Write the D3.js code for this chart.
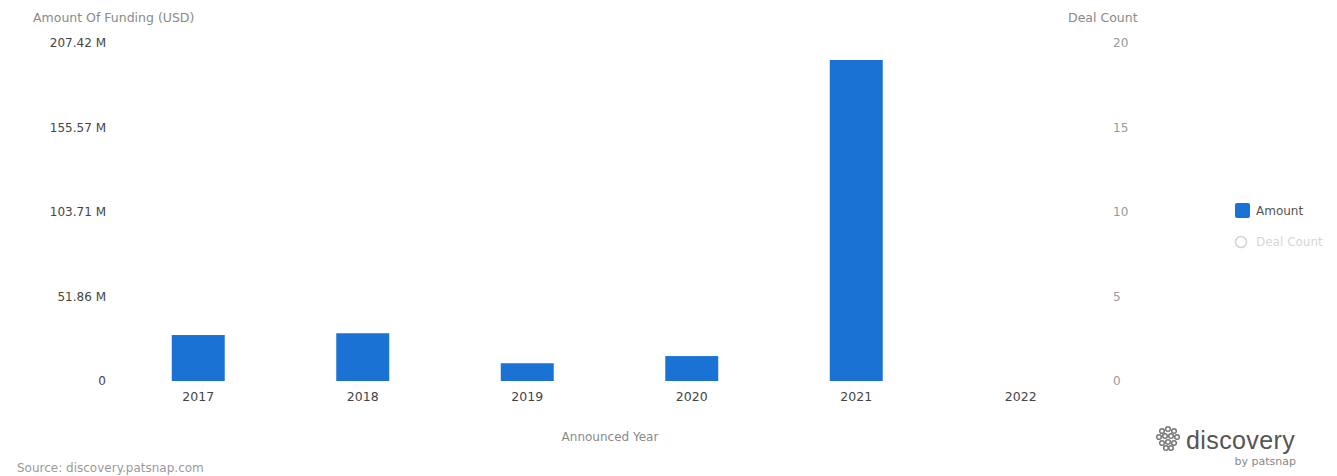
<!DOCTYPE html>
<html>
<head>
<meta charset="utf-8">
<script src="https://cdn.jsdelivr.net/npm/d3@7"></script>
<style>
  html, body { margin: 0; padding: 0; background: #fff; }
  svg { display: block; font-family: "DejaVu Sans", "Liberation Sans", Arial, sans-serif; }
</style>
</head>
<body>
<svg id="chart" width="1337" height="476"></svg>
<script>
// Funding amounts by announced year (millions of USD)
const years = ["2017", "2018", "2019", "2020", "2021", "2022"];
const amounts = [28.2, 29.3, 10.9, 15.3, 197.0, null];

// Axis ticks
const amountTicks = [0, 51.86, 103.71, 155.57, 207.42];
const amountMax = 207.42;
const countTicks = [0, 5, 10, 15, 20];

const FONT = "DejaVu Sans, Liberation Sans, Arial, sans-serif";
const BAR = "#1a73d4";

const svg = d3.select("#chart");

const x = d3.scaleBand()
  .domain(years)
  .range([116, 1103])
  .paddingInner(0.678)
  .paddingOuter(0.339);

const y = d3.scaleLinear().domain([0, amountMax]).range([381, 43]);
const yCount = d3.scaleLinear().domain([0, 20]).range([381, 43]);

// Left axis (amount)
const leftAxis = d3.axisLeft(y)
  .tickValues(amountTicks)
  .tickSize(0)
  .tickPadding(0)
  .tickFormat(d => d === 0 ? "0" : d3.format(".2f")(d) + " M");

svg.append("g")
  .attr("transform", "translate(106,0)")
  .call(leftAxis)
  .call(g => g.select(".domain").remove())
  .selectAll("text")
  .attr("fill", "#444")
  .attr("font-size", 12)
  .attr("font-family", FONT);

// Right axis (deal count)
const rightAxis = d3.axisRight(yCount)
  .tickValues(countTicks)
  .tickSize(0)
  .tickPadding(0);

svg.append("g")
  .attr("transform", "translate(1113,0)")
  .call(rightAxis)
  .call(g => g.select(".domain").remove())
  .selectAll("text")
  .attr("fill", "#999")
  .attr("font-size", 12)
  .attr("font-family", FONT);

// Bottom axis (years)
const bottomAxis = d3.axisBottom(x).tickSize(0).tickPadding(0);
svg.append("g")
  .attr("transform", "translate(0,392)")
  .call(bottomAxis)
  .call(g => g.select(".domain").remove())
  .selectAll("text")
  .attr("fill", "#444")
  .attr("font-size", 12.5)
  .attr("font-family", FONT);

// Bars
svg.append("g")
  .selectAll("rect")
  .data(years.map((yr, i) => ({ yr, v: amounts[i] })).filter(d => d.v != null))
  .join("rect")
  .attr("x", d => x(d.yr))
  .attr("width", x.bandwidth())
  .attr("y", d => y(d.v))
  .attr("height", d => y(0) - y(d.v))
  .attr("fill", BAR);

// Axis titles
svg.append("text")
  .attr("x", 33).attr("y", 22)
  .attr("font-size", 12.5).attr("fill", "#8a8a8a")
  .text("Amount Of Funding (USD)");

svg.append("text")
  .attr("x", 1068).attr("y", 22)
  .attr("font-size", 12.5).attr("fill", "#8a8a8a")
  .text("Deal Count");

svg.append("text")
  .attr("x", 610).attr("y", 441)
  .attr("text-anchor", "middle")
  .attr("font-size", 12).attr("fill", "#8a8a8a")
  .text("Announced Year");

// Legend
const legend = svg.append("g").attr("transform", "translate(1235,203)");
legend.append("rect")
  .attr("x", 0).attr("y", 0).attr("width", 15).attr("height", 15)
  .attr("rx", 2).attr("fill", BAR);
legend.append("text")
  .attr("x", 21).attr("y", 12)
  .attr("font-size", 12).attr("fill", "#555")
  .text("Amount");
legend.append("circle")
  .attr("cx", 6).attr("cy", 39).attr("r", 5.5)
  .attr("fill", "none").attr("stroke", "#d6d6d6").attr("stroke-width", 1.6);
legend.append("text")
  .attr("x", 21).attr("y", 43)
  .attr("font-size", 12).attr("fill", "#d6d6d6")
  .text("Deal Count");

// Source note
svg.append("text")
  .attr("x", 17).attr("y", 472)
  .attr("font-size", 12).attr("fill", "#9a9a9a")
  .text("Source: discovery.patsnap.com");

// Brand mark
const brand = svg.append("g").attr("transform", "translate(1155,427)");
const icon = brand.append("g").attr("fill", "none").attr("stroke", "#777").attr("stroke-width", 1.5);
[[7,4],[13,2],[19,4],[4,10],[10,9],[16,9],[22,10],[7,16],[13,15],[19,16],[11,21],[16,21]].forEach(([cx, cy]) => {
  icon.append("circle").attr("cx", cx).attr("cy", cy).attr("r", 2.3);
});
brand.append("text")
  .attr("x", 31).attr("y", 22)
  .attr("font-size", 25).attr("fill", "#555")
  .attr("letter-spacing", 0.4)
  .attr("font-family", "Liberation Sans, Arial, sans-serif")
  .text("discovery");
brand.append("text")
  .attr("x", 141).attr("y", 38)
  .attr("text-anchor", "end")
  .attr("font-size", 11).attr("fill", "#888")
  .text("by patsnap");
</script>
</body>
</html>
